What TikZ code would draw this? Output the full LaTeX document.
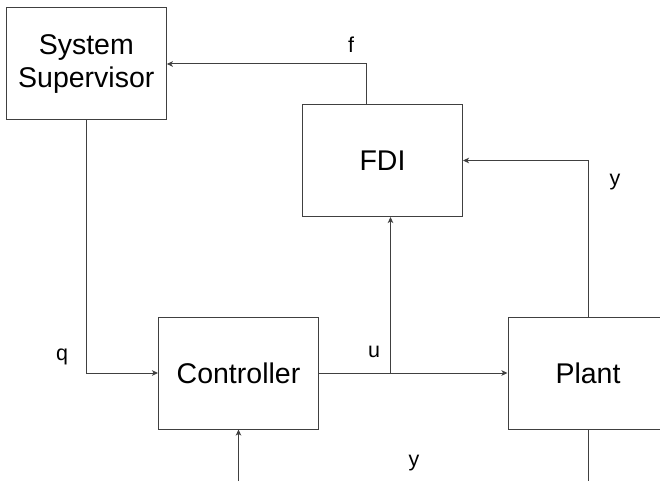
\documentclass[tikz,border=0pt]{standalone}
\usepackage{fontspec}
\setmainfont{Liberation Sans}
\usetikzlibrary{arrows.meta,calc}
\begin{document}
\begin{tikzpicture}[x=1pt,y=-1pt,
  line width=1pt,
  blk/.style={draw=black!75, fill=white, minimum width=160pt, minimum height=112pt,
    inner sep=0pt, align=center, font=\fontsize{28.5}{33}\selectfont},
  lbl/.style={inner sep=0pt, font=\fontsize{21.5}{25}\selectfont},
  wire/.style={draw=black!75},
  arr/.style={wire, -{Stealth[length=6pt,width=5.5pt,inset=1.5pt]}}]
\useasboundingbox (0,0) rectangle (660,481);
\clip (0,0) rectangle (660,481);

% blocks
\node[blk] (sup)   at (86.3,64)    {System\\Supervisor};
\node[blk] (fdi)   at (382.5,160.5) {FDI};
\node[blk] (ctrl)  at (238.5,373)  {Controller};
\node[blk] (plant) at (588,373)    {Plant};

% free ends
\coordinate (ubr)  at (390.5,373);
\coordinate (yin)  at (238.5,481);
\coordinate (yout) at (588,481);

% signal paths
\draw[arr] ($(fdi.north west)+(64.3,0)$) |- (sup.east);
\draw[arr] (sup.south) |- (ctrl.west);
\draw[arr] (ctrl.east) -- (plant.west);
\draw[arr] (ubr) -- (ubr |- fdi.south);
\draw[arr] (plant.north) |- (fdi.east);
\draw[arr] (yin) -- (ctrl.south);
\draw[wire] (plant.south) -- (yout);

% signal labels
\node[lbl] (lf)  at (351,45)  {f};
\node[lbl] (lq)  at (62,357)  {q};
\node[lbl] (lu)  at (374,352) {u};
\node[lbl] (ly1) at (615,182) {y};
\node[lbl] (ly2) at (414,463) {y};
\end{tikzpicture}
\end{document}
